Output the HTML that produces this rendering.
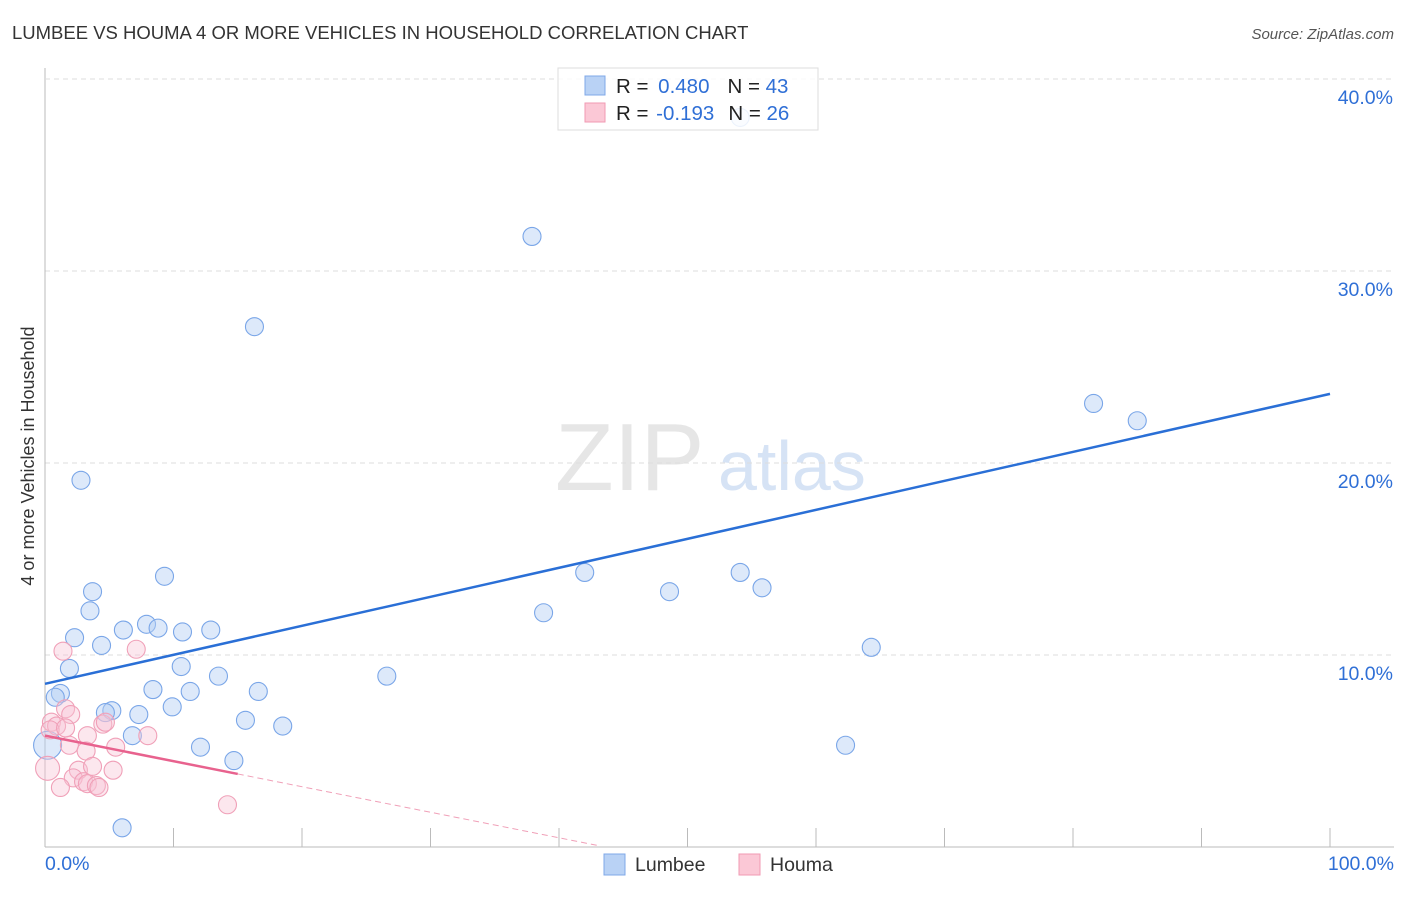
<!DOCTYPE html>
<html><head><meta charset="utf-8"><style>
body{margin:0;background:#fff;font-family:"Liberation Sans",sans-serif;}
svg text{font-family:"Liberation Sans",sans-serif;}
</style></head><body>
<svg id="chart" width="1406" height="892">
<text x="12" y="39" font-size="18.5" fill="#333">LUMBEE VS HOUMA 4 OR MORE VEHICLES IN HOUSEHOLD CORRELATION CHART</text>
<text x="1394" y="39" font-size="15" fill="#555" font-style="italic" text-anchor="end">Source: ZipAtlas.com</text>
<text x="0" y="0" transform="translate(34,456) rotate(-90)" font-size="18" fill="#333" text-anchor="middle">4 or more Vehicles in Household</text>
<text x="555" y="490" font-size="96" fill="#e6e6e6" font-family="Liberation Serif">ZIP</text>
<text x="718" y="490" font-size="70" fill="#d6e3f5">atlas</text>
<g id="grid"></g><g id="pts"></g><g id="lines"></g>
<g>
<rect x="558" y="68" width="260" height="62" fill="#fff" fill-opacity="0.85" stroke="#ddd"/>
<rect x="585" y="76" width="20" height="19" fill="#b9d2f5" stroke="#7fa8e8"/>
<rect x="585" y="103" width="20" height="19" fill="#fbc8d6" stroke="#f09ab3"/>
<text x="616" y="93" font-size="20.5" fill="#222"><tspan>R = </tspan><tspan fill="#2f6fd6" dx="4">0.480</tspan><tspan dx="18">N = </tspan><tspan fill="#2f6fd6">43</tspan></text>
<text x="616" y="120" font-size="20.5" fill="#222"><tspan>R = </tspan><tspan fill="#2f6fd6" dx="2">-0.193</tspan><tspan dx="14">N = </tspan><tspan fill="#2f6fd6">26</tspan></text>
</g>
<g>
<rect x="604" y="854" width="21" height="21" fill="#b9d2f5" stroke="#7fa8e8"/>
<text x="635" y="871" font-size="19.5" fill="#333">Lumbee</text>
<rect x="739" y="854" width="21" height="21" fill="#fbc8d6" stroke="#f09ab3"/>
<text x="770" y="871" font-size="19.5" fill="#333">Houma</text>
</g>
</svg>
<script>
const yTicks=[10,20,30,40];
const yTickLabels=["10.0%","20.0%","30.0%","40.0%"];
const xTickLabels=["0.0%","100.0%"];
const lumbeeX=[54.1,37.9,16.3,2.8,81.6,85.0,42.0,38.8,48.6,54.1,55.8,64.3,62.3,26.6,9.3,3.7,3.5,2.3,4.4,6.1,7.9,8.8,10.7,12.9,1.9,10.6,13.5,8.4,11.3,16.6,1.2,0.8,5.2,4.7,7.3,9.9,15.6,18.5,6.8,12.1,14.7,6.0,0.2];
const lumbeeY=[38.0,31.8,27.1,19.1,23.1,22.2,14.3,12.2,13.3,14.3,13.5,10.4,5.3,8.9,14.1,13.3,12.3,10.9,10.5,11.3,11.6,11.4,11.2,11.3,9.3,9.4,8.9,8.2,8.1,8.1,8.0,7.8,7.1,7.0,6.9,7.3,6.6,6.3,5.8,5.2,4.5,1.0,5.3];
const houmaX=[1.4,7.1,1.6,2.0,0.5,0.9,0.4,4.5,4.7,8.0,3.3,1.9,5.5,3.2,2.6,3.7,5.3,0.2,2.2,3.0,3.3,4.0,4.2,1.2,14.2,1.6];
const houmaY=[10.2,10.3,7.2,6.9,6.5,6.3,6.1,6.4,6.5,5.8,5.8,5.3,5.2,5.0,4.0,4.2,4.0,4.1,3.6,3.4,3.3,3.2,3.1,3.1,2.2,6.2];
const lumbeeFit=[8.5,23.6];
const houmaFit=[5.8,-0.133];
{
const X=v=>45+v*12.85, Y=v=>847-v*19.2;
const NS="http://www.w3.org/2000/svg";
function mk(p,t,a){const e=document.createElementNS(NS,t);for(const k in a)e.setAttribute(k,a[k]);document.getElementById(p).appendChild(e);return e;}
yTicks.forEach((t,i)=>{
 const l=mk('grid','line',{x1:45,x2:1394,y1:Y(t),y2:Y(t),stroke:'#ddd','stroke-dasharray':'5,4'});
 
 
 const tx=mk('grid','text',{x:1393,y:Y(t)+25,'font-size':19.5,fill:'#2f6fd6','text-anchor':'end'});
 tx.textContent=yTickLabels[i];
 
 
});
const ax=mk('grid','line',{x1:45,x2:45,y1:68,y2:847,stroke:'#bbb'});


const bx=mk('grid','line',{x1:45,x2:1394,y1:847,y2:847,stroke:'#bbb'});


for(let i=1;i<=10;i++){const t=mk('grid','line',{x1:X(i*10),x2:X(i*10),y1:828,y2:847,stroke:'#bbb'});
 
 }
[[0,'start',45],[100,'end',1394]].forEach((d,i)=>{const t=mk('grid','text',{x:d[2],y:870,'font-size':19.5,fill:'#2f6fd6','text-anchor':d[1]});t.textContent=xTickLabels[i];
 
 });
lumbeeX.forEach((x,i)=>{const c=mk('pts','circle',{cx:X(x),cy:Y(lumbeeY[i]),r:i==lumbeeX.length-1?14:9,fill:'rgba(180,207,244,0.45)',stroke:'#7aa6e8','stroke-width':1.1});
 
 });
houmaX.forEach((x,i)=>{const c=mk('pts','circle',{cx:X(x),cy:Y(houmaY[i]),r:i==17?12:9,fill:'rgba(248,195,212,0.4)',stroke:'#f0a0b8','stroke-width':1.1});
 
 });
const bl=mk('lines','line',{x1:X(0),y1:Y(lumbeeFit[0]),x2:X(100),y2:Y(lumbeeFit[1]),stroke:'#2a6fd6','stroke-width':2.5});


const hf=x=>houmaFit[0]+houmaFit[1]*x;
const hs=mk('lines','line',{x1:X(0),y1:Y(hf(0)),x2:X(15),y2:Y(hf(15)),stroke:'#e8628e','stroke-width':2.5});


const hd=mk('lines','line',{x1:X(15),y1:Y(hf(15)),x2:X(43),y2:Y(hf(43)),stroke:'#f0a0b8','stroke-width':1,'stroke-dasharray':'6,4'});


const topGrid=mk('grid','line',{x1:45,x2:1394,y1:Y(40),y2:Y(40),stroke:'#ddd','stroke-dasharray':'5,4'});


}
</script>
</body></html>
